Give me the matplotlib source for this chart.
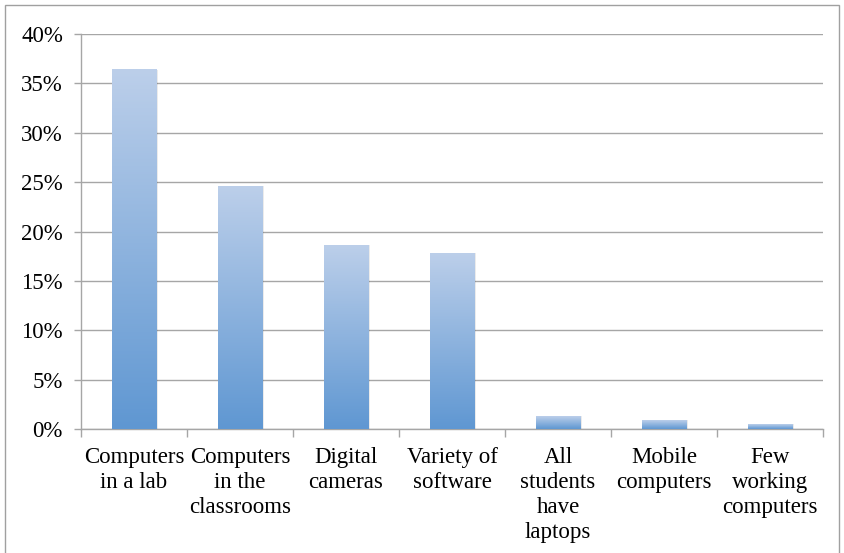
import matplotlib.pyplot as plt
import numpy as np
from matplotlib.colors import LinearSegmentedColormap
from matplotlib.patches import Rectangle

categories = [
    "Computers\nin a lab",
    "Computers\nin the\nclassrooms",
    "Digital\ncameras",
    "Variety of\nsoftware",
    "All\nstudents\nhave\nlaptops",
    "Mobile\ncomputers",
    "Few\nworking\ncomputers",
]
values = [36.4, 24.6, 18.6, 17.8, 1.3, 0.9, 0.5]
y_ticks = [0, 5, 10, 15, 20, 25, 30, 35, 40]

GRID = "#a6a6a6"
cmap = LinearSegmentedColormap.from_list("bar", ["#5f97d2", "#bccfea"])

plt.rcParams["font.family"] = ["Liberation Serif", "DejaVu Serif"]

fig = plt.figure(figsize=(8.44, 5.53), dpi=100, facecolor="white")
ax = fig.add_axes([81 / 844, 1 - 429 / 553, 742 / 844, 395 / 553])

x = np.arange(len(categories))
width = 0.42
grad = np.linspace(0, 1, 256).reshape(-1, 1)
for xi, v in zip(x, values):
    left = xi - width / 2
    # soft shadow
    ax.add_patch(Rectangle((left + 0.02, 0), width, v, facecolor="#000000",
                           alpha=0.08, edgecolor="none", zorder=2))
    # gradient runs from the base to the top of each bar
    ax.imshow(grad, cmap=cmap, origin="lower", aspect="auto",
              extent=(left, left + width, 0, v), zorder=3,
              vmin=0, vmax=1, interpolation="bilinear")

ax.set_xlim(-0.5, len(categories) - 0.5)
ax.set_ylim(0, 40)
ax.set_yticks(y_ticks, [f"{t}%" for t in y_ticks])
ax.set_xticks(x, categories)
ax.set_xticks(np.arange(-0.5, len(categories), 1), minor=True)
ax.tick_params(axis="x", which="major", length=0, pad=13, labelsize=16.5)
ax.tick_params(axis="x", which="minor", length=6, color=GRID, width=1)
ax.tick_params(axis="y", length=5, color=GRID, width=1, labelsize=16.5, pad=8)
ax.grid(axis="y", color=GRID, linewidth=1)
ax.set_axisbelow(True)
for side in ("top", "right"):
    ax.spines[side].set_visible(False)
for side in ("left", "bottom"):
    ax.spines[side].set_color(GRID)
    ax.spines[side].set_linewidth(1)
for lbl in ax.get_xticklabels():
    lbl.set_linespacing(1.25)
    lbl.set_verticalalignment("top")

# outer frame
fig.add_artist(Rectangle((5 / 844, -0.01), 834 / 844, 1 - 5 / 553 + 0.01,
                         transform=fig.transFigure, fill=False,
                         edgecolor="#a0a0a0", linewidth=1))

fig.savefig("out.png", dpi=100, facecolor="white")
